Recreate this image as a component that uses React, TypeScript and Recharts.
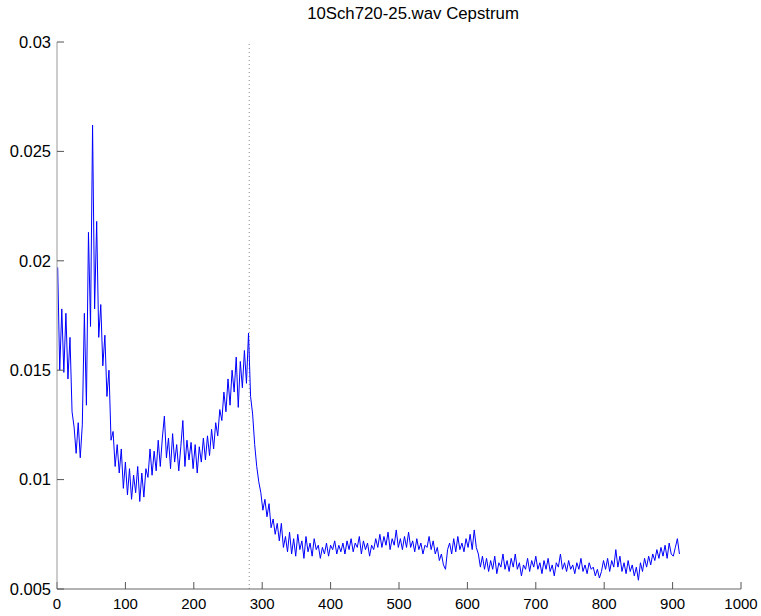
import { LineChart, Line, XAxis, YAxis, ReferenceLine } from 'recharts';

// cepstrum values (x 0.001), one value every 3 samples, starting at sample 1
const START_SAMPLE = 1;
const SAMPLE_STEP = 3;

const seg000 = [19.7, 15.0, 17.8, 14.9, 17.6, 14.6, 16.5, 13.1, 12.4, 11.2, 12.6, 11.0, 12.5, 17.6, 13.4, 21.3, 17.0,
    26.2, 17.8, 21.8, 16.5, 18.0, 15.2, 16.6, 13.8, 15.0, 11.8, 12.2, 10.6, 11.6, 10.3, 11.4, 9.6];
const seg100 = [10.8, 9.3, 10.5, 9.1, 10.2, 9.4, 10.6, 9.0, 10.3, 9.2, 10.5, 10.1, 11.4, 10.2, 11.3, 10.4, 11.8,
    10.6, 11.9, 12.9, 11.0, 11.9, 10.5, 12.1, 10.8, 11.6, 10.4, 11.5, 12.7, 10.6, 11.8, 10.9, 11.7, 10.5];
const seg200 = [11.6, 10.3, 11.5, 10.8, 11.9, 10.9, 12.0, 11.1, 12.3, 11.4, 12.6, 12.0, 13.2, 12.7, 14.0, 13.1, 14.6,
    13.4, 15.0, 14.0, 15.6, 13.3, 15.4, 14.2, 15.9, 14.4, 16.7, 13.8, 13.0, 11.6, 10.6, 9.9, 9.4];
const seg300 = [8.6, 9.1, 8.3, 8.9, 7.8, 8.2, 7.5, 8.0, 7.2, 8.0, 6.9, 7.4, 6.7, 7.6, 6.6, 7.3, 6.5,
    7.5, 6.8, 7.2, 6.4, 7.4, 6.7, 7.1, 6.5, 7.3, 6.8, 7.0, 6.4, 6.9, 6.6, 7.1, 6.5, 7.0];
const seg400 = [6.8, 7.2, 6.6, 7.0, 6.7, 7.1, 6.6, 7.2, 6.8, 7.3, 6.7, 7.1, 6.9, 7.4, 6.6, 7.2, 6.8,
    7.1, 6.5, 7.0, 6.8, 7.3, 6.9, 7.5, 6.9, 7.4, 7.0, 7.6, 6.8, 7.3, 7.0, 7.7, 6.9];
const seg500 = [7.3, 6.8, 7.4, 6.9, 7.6, 6.9, 7.2, 6.7, 7.3, 6.8, 7.1, 6.6, 7.0, 6.9, 7.4, 6.8, 7.2,
    6.6, 6.9, 6.3, 6.6, 6.1, 5.9, 6.8, 7.1, 6.6, 7.3, 6.7, 7.4, 6.8, 7.1, 6.7, 7.3];
const seg600 = [6.9, 7.5, 6.8, 7.7, 6.9, 6.6, 6.0, 6.5, 5.9, 6.4, 5.8, 6.3, 5.9, 6.5, 5.7, 6.2, 6.0,
    6.6, 5.9, 6.3, 5.8, 6.4, 6.0, 6.6, 5.9, 6.2, 5.6, 6.1, 5.9, 6.4, 5.8, 6.3, 6.0, 6.5];
const seg700 = [5.9, 6.2, 5.7, 6.3, 5.9, 6.4, 5.8, 6.1, 5.6, 6.2, 6.0, 6.6, 5.9, 6.2, 5.8, 6.3, 5.9,
    6.1, 5.7, 6.2, 5.9, 6.4, 5.8, 6.1, 5.7, 6.2, 5.9, 6.0, 5.6, 5.9, 5.5, 5.8, 6.3];
const seg800 = [5.9, 6.4, 5.8, 6.3, 6.0, 6.8, 6.0, 6.5, 5.8, 6.2, 5.7, 6.3, 5.8, 6.1, 5.6, 6.0, 5.4,
    6.2, 5.8, 6.4, 6.0, 6.5, 6.1, 6.6, 6.3, 6.8, 6.4, 6.9, 6.5, 7.0, 6.4, 7.1, 6.6, 6.5, 6.9, 7.3, 6.6];

const xTicks = [0, 100, 200, 300, 400, 500, 600, 700, 800, 900, 1000];
const yTicks = [5, 10, 15, 20, 25, 30];
const yTickLabels = ['0.005', '0.01', '0.015', '0.02', '0.025', '0.03'];
const markerSample = 281;

const values = [...seg000, ...seg100, ...seg200, ...seg300, ...seg400, ...seg500, ...seg600, ...seg700, ...seg800];
const data = values.map((v, i) => ({ n: START_SAMPLE + i * SAMPLE_STEP, c: v }));

const FONT = 'Liberation Sans, Arial, sans-serif';
const xFont = { fontFamily: FONT, fontSize: 15, fill: '#000' };
const yFont = { fontFamily: FONT, fontSize: 16.5, fill: '#000' };

export default function App() {
    return (
        <div style={{ position: 'absolute', left: 0, top: 0, width: 761, height: 616, background: '#fff' }}>
            <div style={{
                position: 'absolute', left: 71, width: 684, top: 4, textAlign: 'center',
                fontFamily: FONT, fontSize: 16.8, color: '#000'
            }}>
                10Sch720-25.wav Cepstrum
            </div>
            <LineChart width={761} height={616} data={data}
                margin={{ top: 42, right: 20, left: 7, bottom: 0 }}>
                <XAxis dataKey="n" type="number" domain={[0, 1000]} ticks={xTicks}
                    interval={0} height={27} tickSize={-7} tickMargin={16}
                    axisLine={{ stroke: '#666' }} tickLine={{ stroke: '#555' }}
                    tick={xFont} />
                <XAxis xAxisId="top" dataKey="n" type="number" domain={[0, 1000]} orientation="top"
                    height={0} tick={false} tickLine={false} axisLine={{ stroke: '#ccc' }} />
                <YAxis type="number" domain={[5, 30]} ticks={yTicks} interval={0} width={50}
                    tickSize={-7} tickMargin={13}
                    tickFormatter={(v: number) => yTickLabels[yTicks.indexOf(v)]}
                    axisLine={{ stroke: '#999' }} tickLine={{ stroke: '#555' }}
                    tick={yFont} />
                <YAxis yAxisId="right" orientation="right" domain={[5, 30]} width={0}
                    tick={false} tickLine={false} axisLine={{ stroke: '#555' }} />
                <ReferenceLine x={markerSample} stroke="#888" strokeDasharray="1 3" />
                <Line dataKey="c" type="linear" stroke="#0000ff" strokeWidth={1} dot={false}
                    isAnimationActive={false} />
            </LineChart>
        </div>
    );
}
